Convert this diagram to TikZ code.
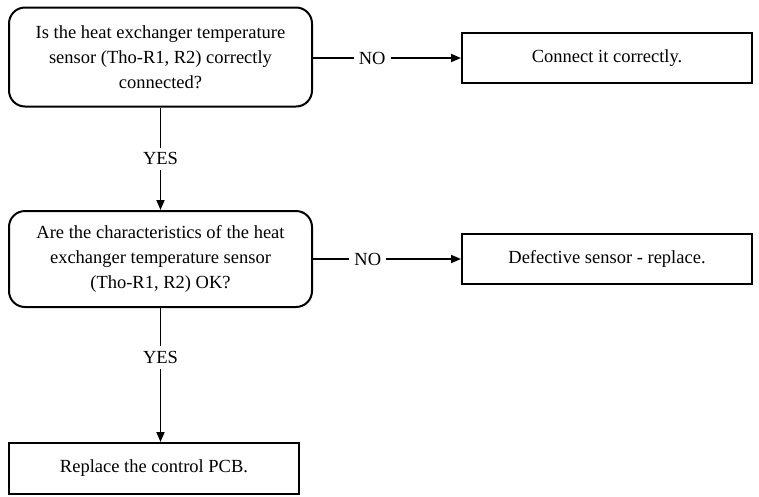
\documentclass[tikz,border=0pt]{standalone}
\usepackage{fontspec}
\setmainfont{Liberation Serif}
\usetikzlibrary{arrows.meta}
\begin{document}
\begin{tikzpicture}[x=1pt,y=-1pt,
  decision/.style={draw,line width=2pt,rounded corners=16pt,align=center,font=\fontsize{18.5}{25}\selectfont,inner sep=0pt},
  action/.style={draw,line width=2pt,align=center,font=\fontsize{18.5}{25}\selectfont,inner sep=0pt},
  lbl/.style={fill=white,inner sep=5pt,font=\fontsize{18.5}{20}\selectfont},
  conn/.style={line width=1.8pt,-{Triangle[length=10pt,width=8pt]}}]
\useasboundingbox (0,0) rectangle (759,496);
\node[decision,minimum width=303pt,minimum height=99pt] (q1) at (160.5,57) {Is the heat exchanger temperature\\sensor (Tho-R1, R2) correctly\\connected?};
\node[decision,minimum width=303pt,minimum height=96pt] (q2) at (160.5,259) {Are the characteristics of the heat\\exchanger temperature sensor\\(Tho-R1, R2) OK?};
\node[action,minimum width=290pt,minimum height=50pt] (a1) at (607,58) {Connect it correctly.};
\node[action,minimum width=290pt,minimum height=50pt] (a2) at (607,259) {Defective sensor - replace.};
\node[action,minimum width=290pt,minimum height=51pt] (a3) at (154,468.5) {Replace the control PCB.};
\draw[conn] (q1.east |- a1.west) -- node[lbl,pos=0.4]{NO} (a1.west);
\draw[conn] (q2.east) -- node[lbl,pos=0.37]{NO} (a2.west);
\draw[conn] (q1.south) -- node[lbl,pos=0.5]{YES} (q2.north);
\draw[conn] (q2.south) -- node[lbl,pos=0.37]{YES} (q2.south |- a3.north);
\end{tikzpicture}
\end{document}
